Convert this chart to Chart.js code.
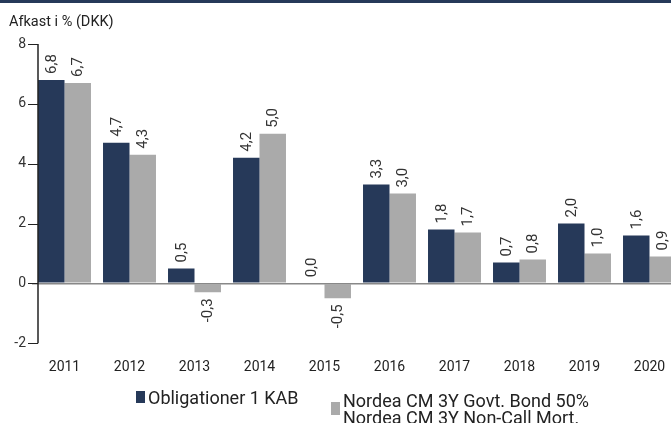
<!DOCTYPE html>
<html>
<head>
<meta charset="utf-8">
<script src="https://cdn.jsdelivr.net/npm/chart.js@4.4.1/dist/chart.umd.min.js"></script>
<style>
  body { margin: 0; width: 671px; height: 423px; overflow: hidden; background: #fff; font-family: Roboto, "Liberation Sans", Arial, sans-serif; }
  #wrap { position: relative; width: 671px; height: 423px; overflow: hidden; }
  #topbar { position: absolute; left: 0; top: 0; width: 671px; height: 3px; background: #263959; }
  #title { position: absolute; left: 9px; top: 13px; font-size: 14.5px; color: #222; }
  #box { position: absolute; left: 0; top: 0; width: 690px; height: 423px; }
  .sq { position: absolute; width: 9px; height: 12px; }
  .lg { position: absolute; font-size: 18px; color: #222; line-height: 17px; white-space: nowrap; }
</style>
</head>
<body>
<div id="wrap">
  <div id="box"><canvas id="afkastChart"></canvas></div>
  <div id="topbar"></div>
  <div id="title">Afkast i % (DKK)</div>
  <div class="sq" style="left:136px; top:391px; background:#263959;"></div>
  <div class="lg" style="left:148px; top:389px;">Obligationer 1 KAB</div>
  <div class="sq" style="left:331px; top:402px; width:9px; height:13px; background:#aaaaaa;"></div>
  <div class="lg" style="left:343px; top:392px;">Nordea CM 3Y Govt. Bond 50%<br>Nordea CM 3Y Non-Call Mort.</div>
</div>
<script>
const years = ['2011', '2012', '2013', '2014', '2015', '2016', '2017', '2018', '2019', '2020'];
const obligationer = [6.8, 4.7, 0.5, 4.2, 0.0, 3.3, 1.8, 0.7, 2.0, 1.6];
const nordea = [6.7, 4.3, -0.3, 5.0, -0.5, 3.0, 1.7, 0.8, 1.0, 0.9];
const yTicks = [-2, 0, 2, 4, 6, 8];

const NAVY = '#263959';
const GREY = '#aaaaaa';
const FONT = 'Roboto, "Liberation Sans", Arial, sans-serif';
const AXIS_X = 38;

// akse-linje, tick-streger og lodrette værdi-labels
const afkastPlugin = {
    id: 'afkastPlugin',
    afterDatasetsDraw(chart) {
        const ctx = chart.ctx;
        const y = chart.scales.y;

        ctx.save();
        ctx.strokeStyle = '#222';
        ctx.lineWidth = 1.5;
        ctx.beginPath();
        ctx.moveTo(AXIS_X, y.getPixelForValue(8));
        ctx.lineTo(AXIS_X, y.getPixelForValue(-2));
        ctx.stroke();
        ctx.lineWidth = 1;
        yTicks.forEach(t => {
            const py = Math.round(y.getPixelForValue(t)) + 0.5;
            ctx.beginPath();
            ctx.moveTo(28, py);
            ctx.lineTo(AXIS_X, py);
            ctx.stroke();
        });

        ctx.fillStyle = '#333';
        ctx.font = '15px ' + FONT;
        ctx.textBaseline = 'middle';
        chart.data.datasets.forEach((ds, i) => {
            chart.getDatasetMeta(i).data.forEach((bar, j) => {
                const v = ds.data[j];
                const txt = v.toFixed(1).replace('.', ',');
                ctx.save();
                if (v >= 0) {
                    ctx.translate(bar.x + 1, bar.y - 6);
                    ctx.rotate(-Math.PI / 2);
                    ctx.textAlign = 'left';
                } else {
                    ctx.translate(bar.x + 1, bar.y + 6);
                    ctx.rotate(-Math.PI / 2);
                    ctx.textAlign = 'right';
                }
                ctx.fillText(txt, 0, 0);
                ctx.restore();
            });
        });
        ctx.restore();
    }
};

new Chart(document.getElementById('afkastChart'), {
    type: 'bar',
    data: {
        labels: years,
        datasets: [
            {
                label: 'Obligationer 1 KAB',
                data: obligationer,
                backgroundColor: NAVY,
                categoryPercentage: 0.815,
                barPercentage: 1.0
            },
            {
                label: 'Nordea CM 3Y Govt. Bond 50% Nordea CM 3Y Non-Call Mort.',
                data: nordea,
                backgroundColor: GREY,
                categoryPercentage: 0.815,
                barPercentage: 1.0
            }
        ]
    },
    options: {
        responsive: true,
        maintainAspectRatio: false,
        animation: false,
        layout: {
            padding: { left: 0, right: 8, top: 44, bottom: 31 }
        },
        plugins: {
            legend: { display: false },
            tooltip: { enabled: false },
            title: { display: false }
        },
        scales: {
            x: {
                offset: true,
                grid: { display: false, drawTicks: false },
                border: { display: false },
                ticks: {
                    color: '#222',
                    padding: 16,
                    font: { size: 14, family: FONT }
                }
            },
            y: {
                min: -2,
                max: 8,
                afterFit: scale => { scale.width = 32; },
                afterBuildTicks: scale => { scale.ticks = yTicks.map(v => ({ value: v })); },
                border: { display: false },
                grid: {
                    drawTicks: false,
                    color: c => (c.tick && c.tick.value === 0 ? '#888' : 'rgba(0,0,0,0)'),
                    lineWidth: 1.5
                },
                ticks: {
                    color: '#333',
                    padding: 6,
                    font: { size: 14, family: FONT }
                }
            }
        }
    },
    plugins: [afkastPlugin]
});
</script>
</body>
</html>
